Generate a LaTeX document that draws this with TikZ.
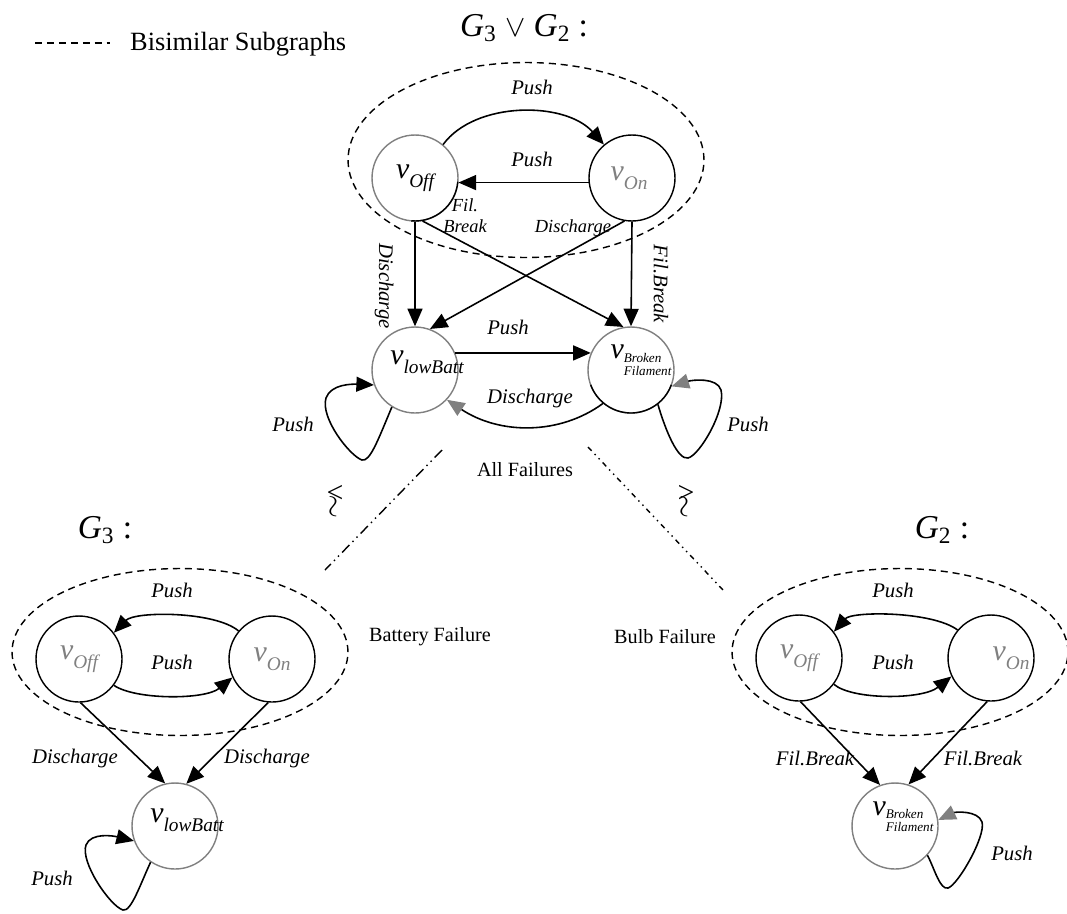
\documentclass[tikz,border=0pt]{standalone}
\usepackage{fontspec}
\setmainfont{Liberation Serif}
\usetikzlibrary{arrows.meta}

\newcommand{\vsub}[1]{{\fontsize{17}{20}\selectfont\itshape v\raisebox{-5pt}{\fontsize{11}{12}\selectfont #1}}}
\newcommand{\vbroken}{{\fontsize{17}{20}\selectfont\itshape v}\raisebox{-2pt}{\fontsize{7.5}{8.5}\selectfont\itshape\begin{tabular}[t]{@{}l@{}}Broken\\[-1pt]Filament\end{tabular}}}
\newcommand{\simsign}[1]{\shortstack{#1\\[-7pt]\rotatebox{90}{$\sim$}}}

\tikzset{
  state/.style={circle, draw, line width=0.8pt, minimum size=1.72cm, inner sep=0pt},
  dim/.style={draw=gray},
  vlab/.style={inner sep=0pt},
  tag/.style={font=\fontsize{11.8}{13}\selectfont\itshape, inner sep=1pt},
  smalltag/.style={font=\fontsize{10.5}{12}\selectfont\itshape, inner sep=1pt},
  note/.style={font=\fontsize{11.5}{13}\selectfont},
  title/.style={font=\fontsize{19}{22}\selectfont},
  simbox/.style={font=\fontsize{17}{17}\selectfont, inner sep=0pt},
  arr/.style={-{Triangle[length=10pt,width=8.5pt]}, line width=0.9pt},
  arrg/.style={-{Triangle[length=10pt,width=8.5pt,color=gray]}, line width=0.9pt},
  bisim/.style={dash pattern=on 4pt off 2.8pt, line width=0.8pt},
  cut/.style={line width=0.8pt, dash pattern=on 6pt off 2.5pt on 0.8pt off 2.5pt on 0.8pt off 2.5pt},
  cutb/.style={line width=0.8pt, dash pattern=on 3pt off 2.5pt on 0.8pt off 2.5pt on 0.8pt off 2.5pt},
}

\begin{document}
\begin{tikzpicture}[x=0.02cm, y=0.02cm]
  \useasboundingbox (0,0) rectangle (1067,-913);

  \draw[bisim] (35,-43) -- (110,-43);
  \node[font=\fontsize{15}{18}\selectfont, anchor=west] (legend) at (124,-44) {Bisimilar Subgraphs};
  \node[title] (tAll) at (524,-28) {{\itshape G}\textsubscript{3} $\vee$ {\itshape G}\textsubscript{2} :};

  \draw[bisim] (526,-160) ellipse [x radius=3.56cm, y radius=1.95cm];

  \node[state, dim, label={[vlab]center:\vsub{Off}}] (vOff) at (415,-178) {};
  \node[state, label={[vlab,text=gray,xshift=-0.06cm]center:\vsub{On}}] (vOn) at (632,-178) {};
  \node[state, dim, label={[vlab,xshift=0.24cm,yshift=0.16cm]center:\vsub{lowBatt}}] (vLow) at (415,-370) {};
  \node[state, dim, label={[vlab,xshift=0.2cm,yshift=0.15cm]center:\vbroken}] (vBrk) at (631,-370) {};
  \draw[line width=0.8pt] ([shift={(-95:0.86cm)}]vOff.center) arc[start angle=-95, end angle=-5, radius=0.86cm];
  \draw[line width=0.8pt] ([shift={(200:0.86cm)}]vBrk.center) arc[start angle=200, end angle=340, radius=0.86cm];

  \draw[arr] (vOff.50) .. controls (475,-101) and (565,-101) .. (vOn.130);
  \draw[arr] (vOn.186) -- (vOff.354);
  \draw[arr] (vOff.south) -- (vLow.north);
  \draw[arr] (vOn.south) -- (vBrk.north);
  \draw[arr] (vOff.-80) -- (vBrk.100);
  \draw[arr] (vOn.-100) -- (vLow.70);
  \draw[arr] (vLow.23) -- (vBrk.157);
  \draw[arrg] (vBrk.230) .. controls (560,-435) and (500,-435) .. (vLow.-43);
  \draw[arr] (vLow.238) .. controls (378,-440) and (370,-462) .. (362,-460) .. controls (350,-456) and (320,-418) .. (326,-398) .. controls (331,-384) and (352,-384) .. (vLow.200);
  \draw[arrg] (vBrk.-52) .. controls (666,-432) and (678,-460) .. (688,-458) .. controls (700,-455) and (726,-410) .. (721,-390) .. controls (717,-377) and (692,-380) .. (vBrk.-22);

  \node[tag] (pTop) at (532,-87) {Push};
  \node[tag] (pMid) at (532,-159) {Push};
  \node[smalltag, align=center] (fbTop) at (465,-216) {Fil.\\Break};
  \node[smalltag] (dTop) at (573,-228) {Discharge};
  \node[tag, rotate=-90] (dSide) at (384,-286) {Discharge};
  \node[tag, rotate=-90] (fSide) at (661,-284) {Fil.Break};
  \node[tag] (pLow) at (508,-327) {Push};
  \node[tag] (dLow) at (530,-399) {Discharge};
  \node[tag] (pLeft) at (293,-424) {Push};
  \node[tag] (pRight) at (748,-424) {Push};

  \node[note] (allF) at (525,-470) {All Failures};
  \coordinate (cutA) at (442,-450);
  \coordinate (cutB) at (325,-570);
  \coordinate (cutC) at (588,-447);
  \coordinate (cutD) at (723,-590);
  \draw[cut] (cutA) -- (cutB);
  \draw[cutb] (cutC) -- (cutD);
  \node[simbox] (simL) at (335,-502) {\simsign{<}};
  \node[simbox] (simR) at (686,-502) {\simsign{>}};

  \node[title] (tG3) at (105,-530) {{\itshape G}\textsubscript{3} :};
  \node[title] (tG2) at (942,-530) {{\itshape G}\textsubscript{2} :};
  \node[note] (batF) at (430,-637) {Battery Failure};
  \node[note] (bulbF) at (665,-637) {Bulb Failure};

  \draw[bisim] (180,-652) ellipse [x radius=3.36cm, y radius=1.67cm];
  \node[state, label={[vlab,text=gray]center:\vsub{Off}}] (bOff) at (79,-659) {};
  \node[state, label={[vlab,text=gray]center:\vsub{On}}] (bOn) at (272,-659) {};
  \node[state, dim, label={[vlab,xshift=0.24cm,yshift=0.12cm]center:\vsub{lowBatt}}] (bLow) at (175,-826) {};

  \draw[arr] (bOn.140) .. controls (215,-611) and (135,-611) .. (bOff.37);
  \draw[arr] (bOff.-37) .. controls (135,-700) and (205,-700) .. (bOn.205);
  \draw[arr] (bOff.-88) -- (bLow.103);
  \draw[arr] (bOn.-95) -- (bLow.75);
  \draw[arr] (bLow.236) .. controls (140,-885) and (131,-912) .. (123,-910) .. controls (110,-906) and (80,-862) .. (86,-845) .. controls (91,-832) and (114,-836) .. (bLow.200);

  \node[tag] (pbTop) at (172,-590) {Push};
  \node[tag] (pbMid) at (172,-662) {Push};
  \node[tag] (dbL) at (75,-758) {Discharge};
  \node[tag] (dbR) at (267,-758) {Discharge};
  \node[tag] (pbLoop) at (52,-878) {Push};

  \draw[bisim] (900,-652) ellipse [x radius=3.36cm, y radius=1.67cm];
  \node[state, label={[vlab,text=gray]center:\vsub{Off}}] (rOff) at (799,-658) {};
  \node[state, label={[vlab,text=gray,xshift=0.4cm]center:\vsub{On}}] (rOn) at (991,-658) {};
  \node[state, dim, label={[vlab,xshift=0.16cm,yshift=0.14cm]center:\vbroken}] (rBrk) at (895,-826) {};

  \draw[arr] (rOn.140) .. controls (932,-611) and (852,-611) .. (rOff.37);
  \draw[arr] (rOff.-37) .. controls (852,-700) and (922,-700) .. (rOn.205);
  \draw[arr] (rOff.-88) -- (rBrk.110);
  \draw[arr] (rOn.-95) -- (rBrk.72);
  \draw[arrg] (rBrk.-42) .. controls (935,-870) and (940,-890) .. (948,-888) .. controls (958,-885) and (986,-836) .. (982,-822) .. controls (978,-810) and (955,-812) .. (rBrk.8);

  \node[tag] (prTop) at (893,-590) {Push};
  \node[tag] (prMid) at (893,-662) {Push};
  \node[tag] (frL) at (815,-758) {Fil.Break};
  \node[tag] (frR) at (983,-758) {Fil.Break};
  \node[tag] (prLoop) at (1012,-853) {Push};
\end{tikzpicture}
\end{document}
